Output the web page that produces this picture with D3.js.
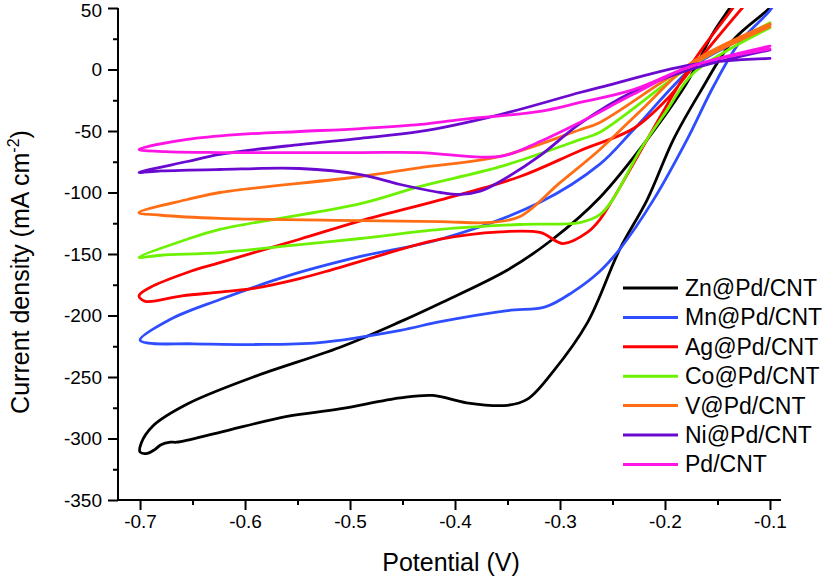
<!DOCTYPE html>
<html>
<head>
<meta charset="utf-8">
<script src="https://cdn.jsdelivr.net/npm/d3@7"></script>
<style>
  html, body { margin: 0; padding: 0; background: #fff; }
  text { font-family: "Liberation Sans", Arial, sans-serif; fill: #000; }
</style>
</head>
<body>
<svg id="chart" width="827" height="577"></svg>
<script>
// ---------- data (Potential V, Current density mA cm-2), loop: upper branch right->left, then lower branch left->right
const seriesNames = ["Zn@Pd/CNT", "Mn@Pd/CNT", "Ag@Pd/CNT", "Co@Pd/CNT", "V@Pd/CNT", "Ni@Pd/CNT", "Pd/CNT"];
const seriesColors = ["#000000", "#2E4DFF", "#FF0000", "#6CF200", "#FF6E14", "#6A0AD0", "#FF14E6"];

const znData = [
  [-0.133, 57], [-0.138, 50.4], [-0.154, 30], [-0.179, -10.6], [-0.217, -57], [-0.262, -104],
  [-0.307, -138], [-0.350, -163], [-0.414, -190], [-0.452, -205], [-0.510, -226], [-0.592, -250],
  [-0.655, -272], [-0.688, -290], [-0.699, -304], [-0.700, -311],
  [-0.693, -312], [-0.686, -309], [-0.680, -305], [-0.671, -303], [-0.665, -303], [-0.624, -295],
  [-0.560, -282], [-0.510, -276], [-0.452, -267], [-0.421, -265], [-0.389, -271], [-0.350, -273],
  [-0.331, -268], [-0.307, -246], [-0.274, -206], [-0.243, -146], [-0.217, -106], [-0.192, -57],
  [-0.167, -19], [-0.135, 24], [-0.100, 50.4], [-0.097, 55]
];
const mnData = [
  [-0.100, 36.6], [-0.141, 18.7], [-0.173, 2.4], [-0.230, -49], [-0.262, -77], [-0.319, -108],
  [-0.414, -138], [-0.490, -152], [-0.560, -168], [-0.624, -187], [-0.671, -203], [-0.700, -220],
  [-0.692, -222.5], [-0.650, -223], [-0.592, -223.6], [-0.529, -222], [-0.452, -212], [-0.414, -205],
  [-0.350, -196], [-0.314, -193], [-0.288, -181], [-0.262, -164], [-0.243, -146], [-0.211, -106],
  [-0.179, -57], [-0.154, -14], [-0.129, 22], [-0.100, 48], [-0.095, 55]
];
const agData = [
  [-0.119, 57], [-0.126, 50.4], [-0.173, 2.4], [-0.198, -24], [-0.230, -48], [-0.281, -66],
  [-0.338, -87], [-0.414, -106], [-0.490, -123], [-0.548, -138], [-0.624, -157], [-0.655, -165],
  [-0.690, -177], [-0.701, -184],
  [-0.695, -188.5], [-0.660, -184], [-0.624, -181], [-0.592, -178], [-0.548, -170], [-0.510, -161],
  [-0.414, -138], [-0.357, -132], [-0.319, -132.5], [-0.297, -141.5], [-0.274, -132.5],
  [-0.262, -122], [-0.250, -106], [-0.173, 6.5], [-0.135, 50.4], [-0.130, 57]
];
const coData = [
  [-0.100, 38], [-0.176, 2.4], [-0.262, -51], [-0.281, -57], [-0.357, -79], [-0.433, -95],
  [-0.490, -109], [-0.624, -130], [-0.655, -138], [-0.701, -152.8],
  [-0.680, -151], [-0.624, -148.8], [-0.548, -142.3], [-0.490, -137.4], [-0.414, -130],
  [-0.338, -126], [-0.281, -124.4], [-0.262, -118], [-0.250, -106], [-0.224, -66], [-0.198, -33],
  [-0.173, -3], [-0.100, 34]
];
const vData = [
  [-0.100, 35], [-0.179, 2.4], [-0.262, -43], [-0.281, -49], [-0.357, -70.7], [-0.433, -79.7],
  [-0.490, -87], [-0.624, -100], [-0.655, -105.7], [-0.701, -116.3],
  [-0.680, -118.5], [-0.624, -121], [-0.490, -122.8], [-0.414, -123.6], [-0.367, -124.4],
  [-0.338, -119.5], [-0.300, -92], [-0.262, -65], [-0.219, -30], [-0.173, 6.5], [-0.100, 37]
];
const niData = [
  [-0.100, 9], [-0.174, 4], [-0.262, -14.6], [-0.281, -18.7], [-0.357, -36.6], [-0.433, -50.4],
  [-0.490, -56], [-0.548, -61], [-0.624, -69], [-0.655, -74.8], [-0.701, -83.7],
  [-0.680, -82.5], [-0.624, -81.3], [-0.548, -80.5], [-0.490, -85.4], [-0.452, -93.5],
  [-0.414, -100], [-0.395, -101.6], [-0.376, -99], [-0.357, -91], [-0.319, -70], [-0.281, -44],
  [-0.230, -17.9], [-0.176, 0], [-0.100, 16]
];
const pdData = [
  [-0.100, 19], [-0.176, 2.4], [-0.230, -16.3], [-0.281, -26.8], [-0.319, -34], [-0.395, -40.7],
  [-0.433, -44.7], [-0.490, -48], [-0.548, -50.4], [-0.605, -52.8], [-0.655, -56.9], [-0.701, -65],
  [-0.675, -66.8], [-0.624, -67.5], [-0.490, -67.5], [-0.433, -67.5], [-0.357, -70.7],
  [-0.319, -58.5], [-0.281, -43], [-0.230, -20], [-0.176, 2.4], [-0.100, 16.5]
];
const allData = [znData, mnData, agData, coData, vData, niData, pdData];

const xTicks = [-0.7, -0.6, -0.5, -0.4, -0.3, -0.2, -0.1];
const yTicks = [50, 0, -50, -100, -150, -200, -250, -300, -350];
const xMinorTicks = [-0.65, -0.55, -0.45, -0.35, -0.25, -0.15];
const yMinorTicks = [25, -25, -75, -125, -175, -225, -275, -325];

// ---------- layout
const svg = d3.select("#chart");
const pLeft = 118, pRight = 781, pTop = 8, pBottom = 500;
const x = d3.scaleLinear().domain([-0.721, -0.0895]).range([pLeft, pRight]);
const y = d3.scaleLinear().domain([-350, 50]).range([pBottom, pTop]);

svg.append("defs").append("clipPath").attr("id", "plotclip")
  .append("rect").attr("x", pLeft).attr("y", pTop).attr("width", pRight - pLeft).attr("height", pBottom - pTop);

// curves
const line = d3.line().x(d => x(d[0])).y(d => y(d[1])).curve(d3.curveCatmullRom.alpha(0.5));
const g = svg.append("g").attr("clip-path", "url(#plotclip)");
allData.forEach((data, i) => {
  g.append("path").datum(data)
    .attr("d", line)
    .attr("fill", "none")
    .attr("stroke", seriesColors[i])
    .attr("stroke-width", 2.8)
    .attr("stroke-linejoin", "round")
    .attr("stroke-linecap", "round");
});

// axes
const xAxis = svg.append("g").attr("transform", `translate(0,${pBottom})`)
  .call(d3.axisBottom(x).tickValues(xTicks).tickSize(10).tickPadding(5).tickFormat(d3.format(".1f")));
svg.append("g").attr("transform", `translate(0,${pBottom})`)
  .call(d3.axisBottom(x).tickValues(xMinorTicks).tickSize(5).tickFormat(""))
  .select(".domain").remove();
const yAxis = svg.append("g").attr("transform", `translate(${pLeft},0)`)
  .call(d3.axisLeft(y).tickValues(yTicks).tickSize(10).tickPadding(6).tickFormat(d3.format("d")));
svg.append("g").attr("transform", `translate(${pLeft},0)`)
  .call(d3.axisLeft(y).tickValues(yMinorTicks).tickSize(5).tickFormat(""))
  .select(".domain").remove();

svg.selectAll(".domain").attr("stroke", "#000").attr("stroke-width", 2);
svg.selectAll(".tick line").attr("stroke", "#000").attr("stroke-width", 2);
svg.selectAll(".tick text").attr("font-size", 19).attr("font-family", "Liberation Sans, Arial, sans-serif").attr("fill", "#000")
  .text(function() { return this.textContent.replace("\u2212", "-"); });
yAxis.selectAll(".tick text").filter(d => d === 50).attr("dy", "0.45em");
xAxis.select(".domain").attr("d", `M${pLeft},0H${pRight}`);
yAxis.select(".domain").attr("d", `M0,${pBottom}V${pTop}`);

// axis titles
svg.append("text").attr("x", 451).attr("y", 571).attr("text-anchor", "middle")
  .attr("font-size", 25).text("Potential (V)");
const yt = svg.append("text").attr("transform", "translate(29,272) rotate(-90)")
  .attr("text-anchor", "middle").attr("font-size", 25);
yt.append("tspan").text("Current density (mA cm");
yt.append("tspan").attr("font-size", 16).attr("dy", -10).text("-2");
yt.append("tspan").attr("dy", 10).text(")");

// legend
const lg = svg.append("g");
seriesNames.forEach((name, i) => {
  const yy = 288 + i * 29.4;
  lg.append("line").attr("x1", 623).attr("x2", 678).attr("y1", yy).attr("y2", yy)
    .attr("stroke", seriesColors[i]).attr("stroke-width", 3);
  lg.append("text").attr("x", 685).attr("y", yy + 8).attr("font-size", 23).text(name);
});
</script>
</body>
</html>
